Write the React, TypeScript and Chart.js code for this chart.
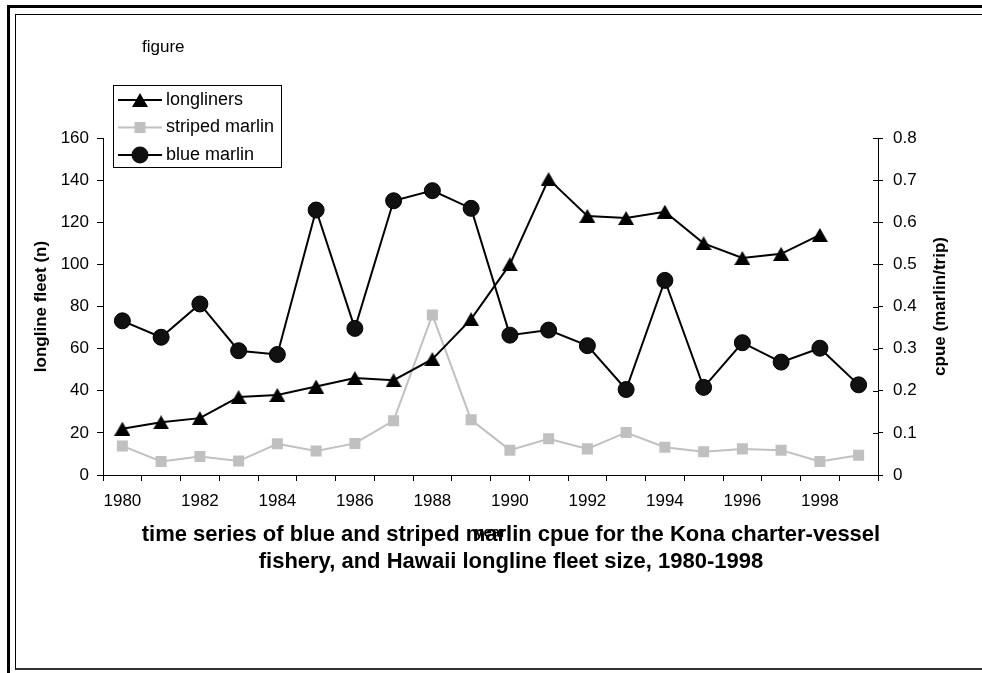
import React, { useEffect, useRef } from 'react';
import { Chart, registerables } from 'chart.js';

Chart.register(...registerables);

const years = ['1980', '1981', '1982', '1983', '1984', '1985', '1986', '1987', '1988', '1989', '1990', '1991', '1992', '1993', '1994', '1995', '1996', '1997', '1998', '1999'];
const longliners = [22, 25, 27, 37, 38, 42, 46, 45, 55, 74, 100, 140.5, 123, 122, 125, 110, 103, 105, 114];
const stripedMarlin = [0.069, 0.032, 0.044, 0.033, 0.074, 0.057, 0.075, 0.129, 0.38, 0.131, 0.059, 0.086, 0.062, 0.101, 0.066, 0.055, 0.062, 0.059, 0.032, 0.047];
const blueMarlin = [0.366, 0.327, 0.406, 0.295, 0.286, 0.629, 0.348, 0.651, 0.675, 0.633, 0.332, 0.344, 0.307, 0.203, 0.462, 0.208, 0.314, 0.268, 0.301, 0.214];
const seriesNames = ['longliners', 'striped marlin', 'blue marlin'];
const leftMax = 160;
const leftStep = 20;
const rightMax = 0.8;
const rightStep = 0.1;

const FONT = "'Liberation Sans', Arial, Helvetica, sans-serif";
const GRAY = '#c0c0c0';

function makeTriangle(): HTMLCanvasElement {
  const c = document.createElement('canvas');
  c.width = 16;
  c.height = 14;
  const g = c.getContext('2d')!;
  g.fillStyle = '#000';
  g.beginPath();
  g.moveTo(8, 0);
  g.lineTo(16, 14);
  g.lineTo(0, 14);
  g.closePath();
  g.fill();
  return c;
}

export default function App() {
  const ref = useRef<HTMLCanvasElement | null>(null);

  useEffect(() => {
    document.body.style.margin = '0';
    const canvas = ref.current;
    if (!canvas) return;
    const tri = makeTriangle();

    const extras = {
      id: 'extras',
      afterDraw(chart: any) {
        const ctx = chart.ctx as CanvasRenderingContext2D;
        const area = chart.chartArea;
        const y1 = chart.scales.y1;
        // inner tick marks on right axis
        ctx.save();
        ctx.strokeStyle = '#000';
        ctx.lineWidth = 1;
        for (let v = 0; v <= rightMax + 1e-9; v += rightStep) {
          const py = Math.round(y1.getPixelForValue(v)) + 0.5;
          ctx.beginPath();
          ctx.moveTo(area.right - 5, py);
          ctx.lineTo(area.right, py);
          ctx.stroke();
        }
        // right axis title
        ctx.fillStyle = '#000';
        ctx.font = `bold 17px ${FONT}`;
        ctx.textAlign = 'center';
        ctx.textBaseline = 'middle';
        ctx.translate(940, (area.top + area.bottom) / 2);
        ctx.rotate(-Math.PI / 2);
        ctx.fillText('cpue (marlin/trip)', 0, 0);
        ctx.restore();

        // legend
        ctx.save();
        ctx.fillStyle = '#fff';
        ctx.fillRect(113.5, 85.5, 168, 82);
        ctx.strokeStyle = '#000';
        ctx.lineWidth = 1;
        ctx.strokeRect(113.5, 85.5, 168, 82);
        const rows = [100, 127.5, 155];
        const ds = chart.data.datasets;
        rows.forEach((ry: number, i: number) => {
          ctx.strokeStyle = ds[i].borderColor;
          ctx.lineWidth = 2;
          ctx.beginPath();
          ctx.moveTo(118, ry);
          ctx.lineTo(162, ry);
          ctx.stroke();
          if (i === 0) {
            ctx.drawImage(tri, 140 - 8, ry - 7);
          } else if (i === 1) {
            ctx.fillStyle = GRAY;
            ctx.fillRect(140 - 5.5, ry - 5.5, 11, 11);
          } else {
            ctx.fillStyle = '#111';
            ctx.beginPath();
            ctx.arc(140, ry, 8.5, 0, Math.PI * 2);
            ctx.fill();
          }
          ctx.fillStyle = '#000';
          ctx.font = `18px ${FONT}`;
          ctx.textAlign = 'left';
          ctx.textBaseline = 'middle';
          ctx.fillText(seriesNames[i], 166, ry);
        });
        ctx.restore();
      },
    };

    const chart = new Chart(canvas, {
      type: 'line',
      data: {
        labels: years,
        datasets: [
          {
            label: seriesNames[0],
            data: longliners,
            yAxisID: 'y',
            borderColor: '#000',
            backgroundColor: '#000',
            borderWidth: 2,
            pointStyle: tri as any,
            pointRadius: 8,
            pointBorderWidth: 0,
            tension: 0,
          },
          {
            label: seriesNames[1],
            data: stripedMarlin,
            yAxisID: 'y1',
            borderColor: GRAY,
            backgroundColor: GRAY,
            borderWidth: 2,
            pointStyle: 'rect',
            pointRadius: 7.8,
            pointBorderWidth: 0,
            tension: 0,
          },
          {
            label: seriesNames[2],
            data: blueMarlin,
            yAxisID: 'y1',
            borderColor: '#000',
            backgroundColor: '#111',
            borderWidth: 2,
            pointStyle: 'circle',
            pointRadius: 8,
            pointBorderColor: '#000',
            pointBorderWidth: 1,
            tension: 0,
          },
        ],
      },
      options: {
        animation: false,
        responsive: false,
        devicePixelRatio: 1,
        layout: { padding: { top: 138, left: 0, right: 0, bottom: 0 } },
        plugins: { legend: { display: false }, tooltip: { enabled: false } },
        scales: {
          x: {
            type: 'category',
            offset: true,
            grid: { offset: true, drawOnChartArea: false, tickLength: 6, color: '#000', lineWidth: 1 },
            border: { display: true, color: '#000', width: 1 },
            ticks: {
              autoSkip: false,
              maxRotation: 0,
              color: '#000',
              font: { family: FONT, size: 17 },
              padding: 10,
              callback: (_v: any, i: number) => (i % 2 === 0 ? years[i] : ''),
            },
            title: {
              display: true,
              text: 'year',
              color: '#000',
              font: { family: FONT, size: 15, weight: 'bold' },
              padding: { top: 0, bottom: 131 },
            },
            afterFit: (s: any) => {
              s.height = 198;
            },
          },
          y: {
            position: 'left',
            min: 0,
            max: leftMax,
            ticks: { stepSize: leftStep, color: '#000', font: { family: FONT, size: 17 }, padding: 8 },
            grid: { drawOnChartArea: false, tickLength: 6, color: '#000' },
            border: { display: true, color: '#000', width: 1 },
            title: {
              display: true,
              text: 'longline fleet (n)',
              color: '#000',
              font: { family: FONT, size: 17, weight: 'bold' },
              padding: { top: 31, bottom: 0 },
            },
            afterFit: (s: any) => {
              s.width = 103;
            },
          },
          y1: {
            position: 'right',
            min: 0,
            max: rightMax,
            ticks: {
              stepSize: rightStep,
              color: '#000',
              font: { family: FONT, size: 17 },
              padding: 10,
              callback: (v: any) => (Math.abs(v) < 1e-9 ? '0' : Number(v).toFixed(1)),
            },
            grid: { drawOnChartArea: false, tickLength: 5, color: '#000' },
            border: { display: true, color: '#000', width: 1 },
            afterFit: (s: any) => {
              s.width = 104;
            },
          },
        },
      },
      plugins: [extras],
    } as any);

    return () => chart.destroy();
  }, []);

  return (
    <div style={{ position: 'relative', width: 982, height: 673, overflow: 'hidden', background: '#fff' }}>
      <canvas ref={ref} width={982} height={673} style={{ position: 'absolute', left: 0, top: 0, width: 982, height: 673 }} />
      <div style={{ position: 'absolute', left: 7, top: 5, width: 1200, height: 900, borderTop: '3px solid #000', borderLeft: '3px solid #000', boxSizing: 'border-box', pointerEvents: 'none' }} />
      <div style={{ position: 'absolute', left: 15, top: 14, width: 1200, height: 656, borderTop: '1px solid #000', borderLeft: '1px solid #000', borderBottom: '2px solid #333', boxSizing: 'border-box', pointerEvents: 'none' }} />
      <div style={{ position: 'absolute', left: 142, top: 37, fontFamily: FONT, fontSize: 17, lineHeight: '20px', color: '#000', whiteSpace: 'nowrap' }}>figure</div>
      <div style={{ position: 'absolute', left: 11, top: 520, width: 1000, textAlign: 'center', fontFamily: FONT, fontSize: 22, fontWeight: 'bold', lineHeight: '27px', color: '#000' }}>
        time series of blue and striped marlin cpue for the Kona charter-vessel
        <br />
        fishery, and Hawaii longline fleet size, 1980-1998
      </div>
    </div>
  );
}
